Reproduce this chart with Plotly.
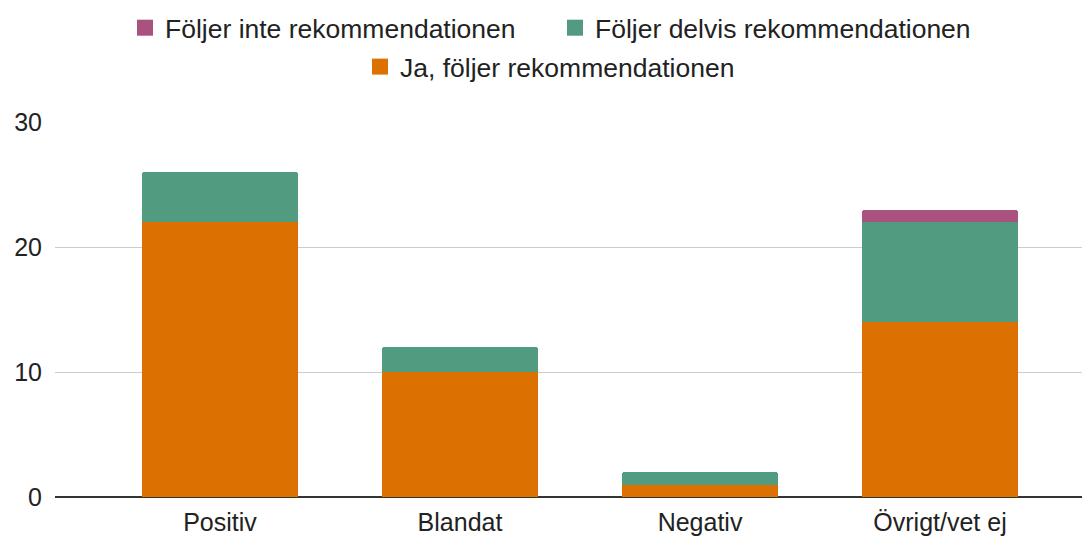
import plotly.graph_objects as go

categories = ["Positiv", "Blandat", "Negativ", "Övrigt/vet ej"]
ja = [22, 10, 1, 14]
delvis = [4, 2, 1, 8]
inte = [0, 0, 0, 1]

series_names = ["Ja, följer rekommendationen", "Följer delvis rekommendationen", "Följer inte rekommendationen"]
colors = ["#dc7000", "#519b80", "#a9527f"]

fig = go.Figure()
fig.add_trace(go.Bar(x=categories, y=ja, name=series_names[0], marker_color=colors[0],
                     marker_line_width=0, width=0.65, showlegend=False))
fig.add_trace(go.Bar(x=categories, y=delvis, name=series_names[1], marker_color=colors[1],
                     marker_line_width=0, width=0.65, showlegend=False))
fig.add_trace(go.Bar(x=categories, y=inte, name=series_names[2], marker_color=colors[2],
                     marker_line_width=0, width=0.65, showlegend=False))

# legend entries (larger square swatches)
fig.add_trace(go.Scatter(x=[None], y=[None], mode="markers", name=series_names[2],
                         marker=dict(symbol="square", size=22, color=colors[2]),
                         legend="legend", legendrank=1))
fig.add_trace(go.Scatter(x=[None], y=[None], mode="markers", name=series_names[1],
                         marker=dict(symbol="square", size=22, color=colors[1]),
                         legend="legend", legendrank=2))
fig.add_trace(go.Scatter(x=[None], y=[None], mode="markers", name=series_names[0],
                         marker=dict(symbol="square", size=22, color=colors[0]),
                         legend="legend2"))

fam = "Liberation Sans, Arial, sans-serif"
font = dict(family=fam, size=26.5, color="#222222")
fig.update_layout(
    barmode="stack",
    barcornerradius=3,
    width=1082, height=529,
    margin=dict(l=47, r=0, t=114, b=40, autoexpand=False),
    plot_bgcolor="white", paper_bgcolor="white",
    font=font,
    showlegend=True,
    legend=dict(orientation="h", x=(123 - 55 + 2) / 1035, xanchor="left",
                y=1.2507, yanchor="middle", font=font, traceorder="normal",
                itemsizing="trace", entrywidth=385, entrywidthmode="pixels"),
    legend2=dict(orientation="h", x=(358 - 55 + 2) / 1035, xanchor="left",
                 y=1.147, yanchor="middle", font=font, itemsizing="trace"),
    xaxis=dict(range=[-0.6875, 3.625], showgrid=False, showline=False, ticks="",
               tickangle=0, ticklabelstandoff=8,
               tickfont=dict(family=fam, size=25, color="#222222")),
    yaxis=dict(range=[0, 30], tickvals=[0, 10, 20, 30], showgrid=True, gridcolor="#cccccc",
               gridwidth=1, zeroline=True, zerolinecolor="#333333", zerolinewidth=2,
               ticks="", ticklabelstandoff=12,
               tickfont=dict(family=fam, size=25, color="#222222")),
)

fig.write_html("out.html")
